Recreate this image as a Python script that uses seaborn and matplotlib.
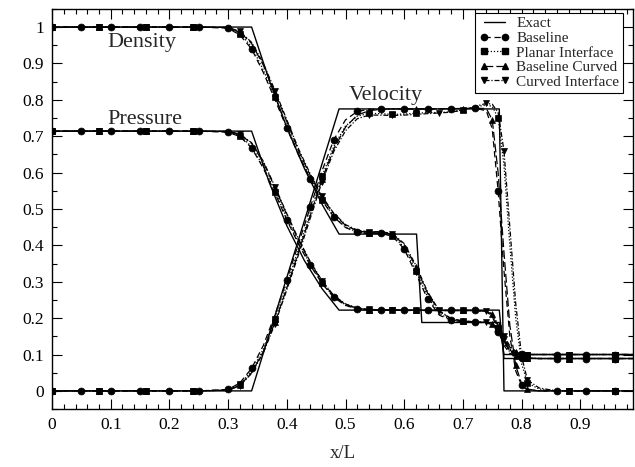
import numpy as np
import pandas as pd
import matplotlib
matplotlib.use("Agg")
import matplotlib.pyplot as plt
from matplotlib.ticker import MultipleLocator
import seaborn as sns

# ── exact solution (piecewise) ───────────────────────────────────────────
x_exact_rho = [0.0, 0.34, 0.37, 0.40, 0.43, 0.46, 0.489, 0.621, 0.63, 0.762, 0.77, 0.99]
rho_exact   = [1.0, 1.0, 0.854, 0.724, 0.611, 0.513, 0.431, 0.431, 0.188, 0.188, 0.1, 0.1]

x_exact_p = [0.0, 0.34, 0.37, 0.40, 0.43, 0.46, 0.489, 0.762, 0.77, 0.99]
p_exact   = [0.714, 0.714, 0.573, 0.454, 0.358, 0.281, 0.222, 0.222, 0.089, 0.089]

x_exact_u = [0.0, 0.34, 0.489, 0.762, 0.77, 0.99]
u_exact   = [0.0, 0.0, 0.775, 0.775, 0.0, 0.0]

# ── numerical solutions, shared x grid ───────────────────────────────────
x_num = [0.00, 0.05, 0.08, 0.10, 0.15, 0.16, 0.20, 0.24, 0.25,
         0.30, 0.32, 0.34, 0.36, 0.38, 0.40, 0.42, 0.44, 0.46, 0.48,
         0.50, 0.52, 0.54, 0.56, 0.58, 0.60, 0.62, 0.64, 0.66, 0.68,
         0.70, 0.72, 0.74, 0.75, 0.76, 0.77, 0.78, 0.79, 0.80, 0.81,
         0.83, 0.86, 0.88, 0.91, 0.96, 0.99]

rho_baseline = [1, 1, 1, 1, 1, 1, 1, 1, 1,
                0.997, 0.978, 0.94, 0.875, 0.80, 0.722, 0.648, 0.582, 0.523, 0.478,
                0.449, 0.436, 0.432, 0.433, 0.425, 0.39, 0.322, 0.252, 0.208, 0.194,
                0.19, 0.189, 0.187, 0.182, 0.162, 0.132, 0.112, 0.104, 0.101, 0.1,
                0.1, 0.1, 0.1, 0.1, 0.1, 0.1]
rho_planar = [1, 1, 1, 1, 1, 1, 1, 1, 1,
              0.998, 0.982, 0.946, 0.882, 0.807, 0.728, 0.652, 0.585, 0.525, 0.48,
              0.45, 0.437, 0.433, 0.434, 0.427, 0.395, 0.33, 0.258, 0.212, 0.196,
              0.191, 0.19, 0.188, 0.184, 0.168, 0.138, 0.115, 0.105, 0.101, 0.1,
              0.1, 0.1, 0.1, 0.1, 0.1, 0.1]
rho_base_curved = [1, 1, 1, 1, 1, 1, 1, 1, 1,
                   0.999, 0.986, 0.955, 0.895, 0.82, 0.74, 0.66, 0.592, 0.532, 0.486,
                   0.455, 0.44, 0.435, 0.437, 0.43, 0.402, 0.34, 0.268, 0.218, 0.198,
                   0.192, 0.19, 0.188, 0.185, 0.172, 0.145, 0.12, 0.107, 0.102, 0.1,
                   0.1, 0.1, 0.1, 0.1, 0.1, 0.1]
rho_curved = [1, 1, 1, 1, 1, 1, 1, 1, 1,
              0.999, 0.988, 0.958, 0.90, 0.825, 0.745, 0.665, 0.596, 0.535, 0.488,
              0.457, 0.442, 0.437, 0.438, 0.432, 0.405, 0.345, 0.272, 0.22, 0.199,
              0.192, 0.19, 0.188, 0.186, 0.175, 0.15, 0.124, 0.109, 0.103, 0.1,
              0.1, 0.1, 0.1, 0.1, 0.1, 0.1]

p_baseline = [0.714] * 9 + [
    0.711, 0.699, 0.668, 0.612, 0.543, 0.47, 0.403, 0.345, 0.295, 0.257,
    0.235, 0.225, 0.222, 0.222, 0.222, 0.221, 0.221, 0.221, 0.221, 0.221,
    0.221, 0.221, 0.218, 0.205, 0.165, 0.125, 0.103, 0.094, 0.091, 0.09,
    0.089, 0.089, 0.089, 0.089, 0.089, 0.089]
p_planar = [0.714] * 9 + [
    0.712, 0.701, 0.672, 0.617, 0.548, 0.475, 0.407, 0.348, 0.297, 0.258,
    0.236, 0.226, 0.223, 0.222, 0.222, 0.222, 0.221, 0.221, 0.221, 0.221,
    0.221, 0.221, 0.218, 0.208, 0.172, 0.132, 0.107, 0.095, 0.091, 0.09,
    0.089, 0.089, 0.089, 0.089, 0.089, 0.089]
p_base_curved = [0.714] * 9 + [
    0.713, 0.705, 0.68, 0.628, 0.558, 0.484, 0.414, 0.353, 0.301, 0.261,
    0.238, 0.227, 0.223, 0.223, 0.222, 0.222, 0.222, 0.221, 0.221, 0.221,
    0.221, 0.221, 0.219, 0.21, 0.178, 0.138, 0.11, 0.097, 0.091, 0.09,
    0.089, 0.089, 0.089, 0.089, 0.089, 0.089]
p_curved = [0.714] * 9 + [
    0.713, 0.706, 0.682, 0.631, 0.561, 0.487, 0.417, 0.355, 0.303, 0.262,
    0.239, 0.228, 0.224, 0.223, 0.222, 0.222, 0.222, 0.221, 0.221, 0.221,
    0.221, 0.221, 0.22, 0.212, 0.182, 0.142, 0.113, 0.098, 0.092, 0.09,
    0.089, 0.089, 0.089, 0.089, 0.089, 0.089]

u_baseline = [0.0] * 9 + [
    0.004, 0.022, 0.062, 0.125, 0.21, 0.305, 0.405, 0.505, 0.605, 0.69,
    0.745, 0.768, 0.774, 0.775, 0.775, 0.775, 0.775, 0.775, 0.775, 0.776,
    0.776, 0.777, 0.77, 0.72, 0.55, 0.33, 0.15, 0.055, 0.015, 0.003,
    0.0, 0.0, 0.0, 0.0, 0.0, 0.0]
u_planar = [0.0] * 9 + [
    0.003, 0.018, 0.055, 0.115, 0.198, 0.292, 0.39, 0.49, 0.59, 0.672,
    0.728, 0.755, 0.763, 0.762, 0.76, 0.761, 0.763, 0.765, 0.765, 0.767,
    0.772, 0.78, 0.786, 0.782, 0.75, 0.62, 0.40, 0.20, 0.075, 0.022,
    0.005, 0.0, 0.0, 0.0, 0.0, 0.0]
u_base_curved = [0.0] * 9 + [
    0.002, 0.015, 0.05, 0.108, 0.19, 0.283, 0.382, 0.482, 0.582, 0.665,
    0.725, 0.758, 0.77, 0.774, 0.775, 0.775, 0.775, 0.775, 0.775, 0.776,
    0.776, 0.777, 0.776, 0.745, 0.60, 0.38, 0.18, 0.07, 0.02, 0.005,
    0.0, 0.0, 0.0, 0.0, 0.0, 0.0]
u_curved = [0.0] * 9 + [
    0.002, 0.014, 0.048, 0.105, 0.185, 0.278, 0.375, 0.475, 0.575, 0.658,
    0.715, 0.748, 0.758, 0.758, 0.757, 0.758, 0.76, 0.762, 0.764, 0.766,
    0.772, 0.782, 0.79, 0.788, 0.765, 0.66, 0.45, 0.24, 0.095, 0.03,
    0.008, 0.0, 0.0, 0.0, 0.0, 0.0]

series_names = ["Baseline", "Planar Interface", "Baseline Curved", "Curved Interface"]
x_ticks = [0, 0.1, 0.2, 0.3, 0.4, 0.5, 0.6, 0.7, 0.8, 0.9]
x_tick_labels = ["0", "0.1", "0.2", "0.3", "0.4", "0.5", "0.6", "0.7", "0.8", "0.9"]
y_ticks = [0, 0.1, 0.2, 0.3, 0.4, 0.5, 0.6, 0.7, 0.8, 0.9, 1.0]
y_tick_labels = ["0", "0.1", "0.2", "0.3", "0.4", "0.5", "0.6", "0.7", "0.8", "0.9", "1"]

# ── styling ──────────────────────────────────────────────────────────────
sns.set_style("ticks")
plt.rcParams["font.family"] = ["Liberation Serif", "DejaVu Serif"]

styles = {
    "Baseline":         dict(ls=(0, (5, 3)), marker="o",
                             every=[0, 1, 3, 4, 6, 8, 9, 11, 14, 16, 18, 20, 22, 24,
                                    26, 28, 30, 33, 37, 40, 42, 43]),
    "Planar Interface": dict(ls=(0, (1, 1.5)), marker="s",
                             every=[0, 2, 5, 7, 10, 13, 17, 21, 23, 25, 29, 33, 38, 41, 43]),
    "Baseline Curved":  dict(ls=(0, (7, 2.5)), marker="^",
                             every=[0, 2, 5, 7, 10, 13, 17, 21, 25, 29, 32, 36, 38, 41, 43]),
    "Curved Interface": dict(ls=(0, (4, 1.5, 1, 1.5)), marker="v",
                             every=[0, 2, 5, 7, 10, 13, 17, 21, 23, 27, 31, 34, 38, 41, 43]),
}
num_data = {
    "Baseline":         (rho_baseline, p_baseline, u_baseline),
    "Planar Interface": (rho_planar, p_planar, u_planar),
    "Baseline Curved":  (rho_base_curved, p_base_curved, u_base_curved),
    "Curved Interface": (rho_curved, p_curved, u_curved),
}

fig = plt.figure(figsize=(6.35, 4.67), dpi=100)
ax = fig.add_axes([0.082, 0.124, 0.915, 0.857])

# exact
for xe, ye in [(x_exact_rho, rho_exact), (x_exact_p, p_exact), (x_exact_u, u_exact)]:
    sns.lineplot(x=xe, y=ye, ax=ax, color="k", lw=1.0, estimator=None, sort=False)

# numerical
for name in series_names:
    st = styles[name]
    for vals in num_data[name]:
        sns.lineplot(x=x_num, y=vals, ax=ax, color="k", lw=0.9, linestyle=st["ls"],
                     marker=st["marker"], markevery=st["every"], markersize=5,
                     markeredgecolor="k", markerfacecolor="k", markeredgewidth=0.5,
                     estimator=None, sort=False)

# legend
handles = [plt.Line2D([], [], color="k", lw=1.0)]
for name in series_names:
    st = styles[name]
    handles.append(plt.Line2D([], [], color="k", lw=0.9, linestyle=st["ls"],
                              marker=st["marker"], markersize=4.5,
                              markerfacecolor="k", markeredgecolor="k"))
leg = ax.legend(handles, ["Exact"] + series_names, loc="upper right",
                bbox_to_anchor=(0.983, 0.99), borderaxespad=0, fontsize=11,
                frameon=True, fancybox=False, edgecolor="k", framealpha=1,
                borderpad=0.25, labelspacing=0.06, handlelength=2.0,
                handletextpad=0.45, numpoints=2)
leg.get_frame().set_linewidth(0.8)

# curve labels
ax.text(0.094, 0.945, "Density", fontsize=16, va="baseline", ha="left")
ax.text(0.094, 0.733, "Pressure", fontsize=16, va="baseline", ha="left")
ax.text(0.505, 0.80, "Velocity", fontsize=16, va="baseline", ha="left")

ax.set_xlim(0, 0.99)
ax.set_ylim(-0.05, 1.05)
ax.set_xticks(x_ticks, x_tick_labels)
ax.set_yticks(y_ticks, y_tick_labels)
ax.xaxis.set_minor_locator(MultipleLocator(0.02))
ax.yaxis.set_minor_locator(MultipleLocator(0.05))
ax.tick_params(which="both", direction="in", top=True, right=True,
               width=0.8, labelsize=12.5, colors="k")
ax.tick_params(which="major", length=7, pad=6)
ax.tick_params(which="minor", length=3.5)
for sp in ax.spines.values():
    sp.set_linewidth(1.0)
    sp.set_color("k")
ax.set_xlabel("x/L", fontsize=13.5, labelpad=8)

fig.savefig("out.png", dpi=100)
